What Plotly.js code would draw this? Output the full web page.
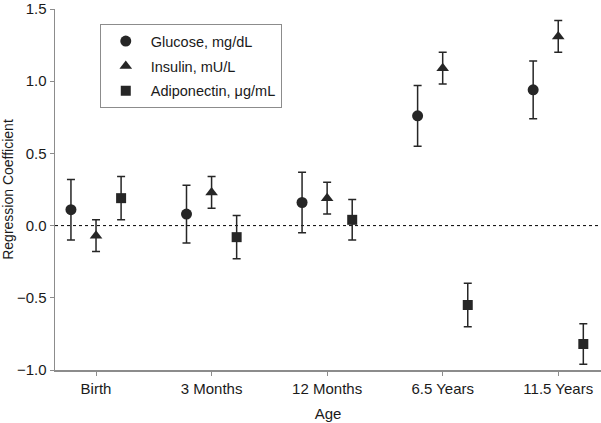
<!DOCTYPE html>
<html>
<head>
<meta charset="utf-8">
<script src="https://cdn.plot.ly/plotly-3.0.1.min.js"></script>
<style>
  html, body { margin: 0; padding: 0; background: #fff; }
  #chart { width: 601px; height: 423px; }
</style>
</head>
<body>
<div id="chart"></div>
<script>
const ages = ['Birth', '3 Months', '12 Months', '6.5 Years', '11.5 Years'];

const glucose = [0.11, 0.08, 0.16, 0.76, 0.94];
const glucoseHigh = [0.32, 0.28, 0.37, 0.97, 1.14];
const glucoseLow = [-0.10, -0.12, -0.05, 0.55, 0.74];

const insulin = [-0.07, 0.23, 0.19, 1.09, 1.31];
const insulinHigh = [0.04, 0.34, 0.30, 1.20, 1.42];
const insulinLow = [-0.18, 0.12, 0.08, 0.98, 1.20];

const adiponectin = [0.19, -0.08, 0.04, -0.55, -0.82];
const adiponectinHigh = [0.34, 0.07, 0.18, -0.40, -0.68];
const adiponectinLow = [0.04, -0.23, -0.10, -0.70, -0.96];

const offset = 0.217;
const ink = '#262626';
const axisGrey = '#8c8c8c';

function makeTrace(name, symbol, size, shift, values, high, low) {
    return {
        x: ages.map((a, i) => i + shift),
        y: values,
        name: name,
        legendgroup: name,
        mode: 'markers',
        type: 'scatter',
        marker: { symbol: symbol, size: size, color: ink },
        error_y: {
            type: 'data',
            symmetric: false,
            array: high.map((h, i) => h - values[i]),
            arrayminus: low.map((l, i) => values[i] - l),
            color: ink,
            thickness: 1.5,
            width: 4,
        },
    };
}

let data = [
    makeTrace('Glucose, mg/dL', 'circle', 11, -offset, glucose, glucoseHigh, glucoseLow),
    makeTrace('Insulin, mU/L', 'triangle-up', 11, 0, insulin, insulinHigh, insulinLow),
    makeTrace('Adiponectin, μg/mL', 'square', 10, offset, adiponectin, adiponectinHigh, adiponectinLow),
];

let layout = {
    width: 601,
    height: 423,
    margin: { l: 55, r: 0, t: 9, b: 53 },
    paper_bgcolor: '#fff',
    plot_bgcolor: '#fff',
    font: { family: 'Liberation Sans, Arial, sans-serif', size: 15, color: '#1a1a1a' },
    showlegend: true,

    xaxis: {
        range: [-0.355, 4.37],
        tickvals: ages.map((a, i) => i),
        ticktext: ages,
        showgrid: false,
        zeroline: false,
        showline: true,
        linecolor: axisGrey,
        linewidth: 1.5,
        ticks: 'outside',
        ticklen: 4,
        tickcolor: axisGrey,
        tickfont: { size: 15 },
        title: { text: 'Age', font: { size: 15 }, standoff: 13 },
    },
    yaxis: {
        range: [-1.0, 1.5],
        tickvals: [-1.0, -0.5, 0, 0.5, 1.0, 1.5],
        tickformat: '.1f',
        ticklabeloverflow: 'allow',
        showgrid: false,
        zeroline: false,
        showline: true,
        linecolor: axisGrey,
        linewidth: 1.5,
        ticks: 'outside',
        ticklen: 4,
        tickcolor: axisGrey,
        tickfont: { size: 15 },
        title: { text: 'Regression Coefficient', font: { size: 14 }, standoff: 4 },
    },

    legend: {
        x: 0.082,
        y: 0.958,
        xanchor: 'left',
        yanchor: 'top',
        bordercolor: axisGrey,
        borderwidth: 1,
        bgcolor: '#fff',
        font: { size: 14.5 },
        tracegroupgap: 3,
        itemwidth: 40,
    },

    shapes: [
        {
            type: 'line',
            xref: 'paper',
            yref: 'y',
            x0: 0,
            x1: 1,
            y0: 0,
            y1: 0,
            layer: 'below',
            line: { color: '#000', width: 1, dash: 'dot' },
        },
    ],
};

let config = { staticPlot: true, displayModeBar: false };

Plotly.newPlot('chart', data, layout, config);
</script>
</body>
</html>
